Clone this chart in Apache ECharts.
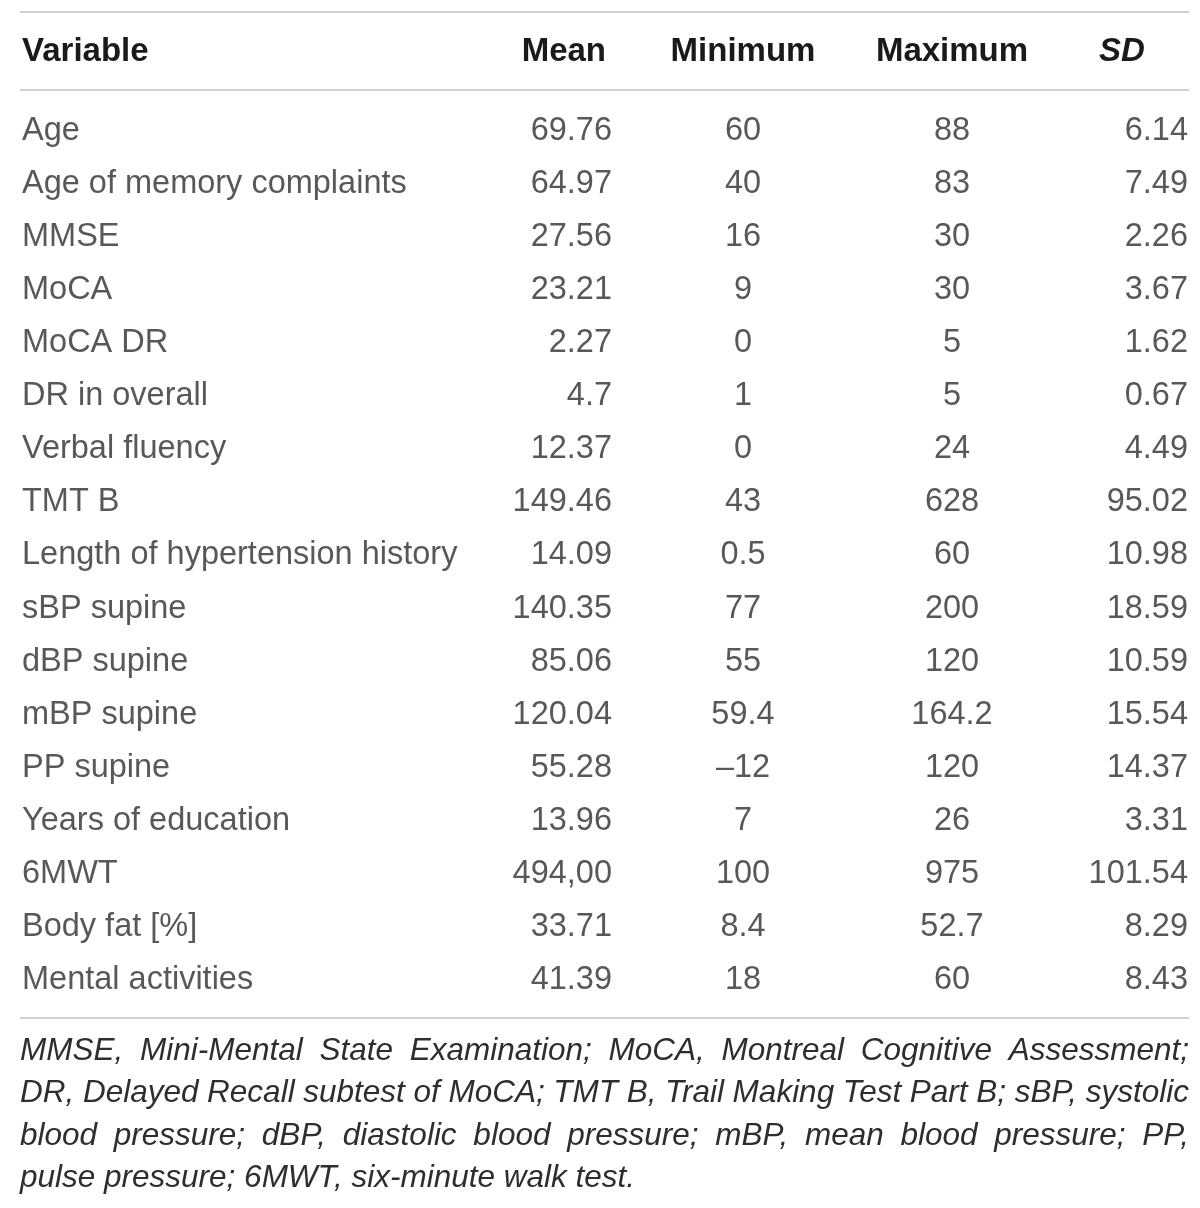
<!DOCTYPE html>
<html>
<head>
<meta charset="utf-8">
<script src="https://cdn.jsdelivr.net/npm/echarts@6/dist/echarts.min.js"></script>
<style>
html,body{margin:0;padding:0;background:#fff}
#main{width:1200px;height:1208px}
</style>
</head>
<body>
<div id="main"></div>
<script>
var headers = ['Variable', 'Mean', 'Minimum', 'Maximum', 'SD'];
var variables = ['Age', 'Age of memory complaints', 'MMSE', 'MoCA', 'MoCA DR', 'DR in overall',
    'Verbal fluency', 'TMT B', 'Length of hypertension history', 'sBP supine', 'dBP supine',
    'mBP supine', 'PP supine', 'Years of education', '6MWT', 'Body fat [%]', 'Mental activities'];
var means = ['69.76', '64.97', '27.56', '23.21', '2.27', '4.7', '12.37', '149.46', '14.09', '140.35',
    '85.06', '120.04', '55.28', '13.96', '494,00', '33.71', '41.39'];
var minimums = ['60', '40', '16', '9', '0', '1', '0', '43', '0.5', '77', '55', '59.4', '–12', '7',
    '100', '8.4', '18'];
var maximums = ['88', '83', '30', '30', '5', '5', '24', '628', '60', '200', '120', '164.2', '120', '26',
    '975', '52.7', '60'];
var sds = ['6.14', '7.49', '2.26', '3.67', '1.62', '0.67', '4.49', '95.02', '10.98', '18.59', '10.59',
    '15.54', '14.37', '3.31', '101.54', '8.29', '8.43'];
var notes = [
    'MMSE, Mini-Mental State Examination; MoCA, Montreal Cognitive Assessment;',
    'DR, Delayed Recall subtest of MoCA; TMT B, Trail Making Test Part B; sBP, systolic',
    'blood pressure; dBP, diastolic blood pressure; mBP, mean blood pressure; PP,',
    'pulse pressure; 6MWT, six-minute walk test.'
];

(function(){
    var myChart = echarts.init(document.getElementById('main'));
    var FONT = '"Liberation Sans", Arial, sans-serif';
    var TEXT = '#2e2e2e';
    var LINE = '#d0d0d0';
    var rowH = 53.06;
    var firstRow = 131;

    // column anchors and alignment
    var cols = [
        {x: 22, align: 'left', vals: variables},
        {x: 612, align: 'right', vals: means},
        {x: 743, align: 'center', vals: minimums},
        {x: 952, align: 'center', vals: maximums},
        {x: 1188, align: 'right', vals: sds}
    ];
    var headPos = [
        {x: 22, align: 'left'},
        {x: 606, align: 'right'},
        {x: 743, align: 'center'},
        {x: 952, align: 'center'},
        {x: 1122, align: 'center', italic: true}
    ];

    var series = cols.map(function(c, k){
        return {
            name: headers[k],
            type: 'scatter',
            silent: true,
            symbolSize: 1,
            itemStyle: {color: 'transparent'},
            data: c.vals.map(function(v, i){ return [c.x, i, v]; }),
            label: {
                show: true,
                position: 'inside',
                align: c.align,
                verticalAlign: 'middle',
                formatter: function(p){ return p.value[2]; },
                fontFamily: FONT,
                fontSize: 32.5,
                color: TEXT
            }
        };
    });

    var graphic = [];
    [12, 90, 1018].forEach(function(y){
        graphic.push({type: 'line', shape: {x1: 20, y1: y, x2: 1189, y2: y},
            style: {stroke: LINE, lineWidth: 2}, silent: true});
    });
    headers.forEach(function(h, k){
        graphic.push({type: 'text', x: headPos[k].x, y: 52, silent: true,
            style: {text: h, align: headPos[k].align, verticalAlign: 'middle',
                font: (headPos[k].italic ? 'italic ' : '') + 'bold 33px ' + FONT, fill: '#1a1a1a'}});
    });

    // footnote, justified line by line
    var noteFont = 'italic 31.5px ' + FONT;
    var ctx = document.createElement('canvas').getContext('2d');
    ctx.font = noteFont;
    var left = 20, right = 1189;
    notes.forEach(function(line, li){
        var y = 1051 + li * 42.5;
        var words = line.split(' ');
        var widths = words.map(function(w){ return ctx.measureText(w).width; });
        var total = widths.reduce(function(a, b){ return a + b; }, 0);
        var space = ctx.measureText(' ').width;
        var gap = li < notes.length - 1 ? (right - left - total) / (words.length - 1) : space;
        var scale = 1;
        if (gap < space * 0.7) {
            scale = (right - left - space * 0.7 * (words.length - 1)) / total;
            gap = space * 0.7;
        }
        var x = left;
        words.forEach(function(w, wi){
            graphic.push({type: 'text', x: x, y: y, scaleX: scale, silent: true,
                style: {text: w, align: 'left', verticalAlign: 'middle', font: noteFont, fill: TEXT}});
            x += widths[wi] * scale + gap;
        });
    });

    var option = {
        animation: false,
        grid: {left: 0, right: 0, top: firstRow - rowH / 2, height: rowH * variables.length},
        xAxis: {type: 'value', min: 0, max: 1200, show: false},
        yAxis: {type: 'category', data: variables, inverse: true, show: false},
        series: series,
        graphic: graphic
    };
    myChart.setOption(option);
})();
</script>
</body>
</html>
